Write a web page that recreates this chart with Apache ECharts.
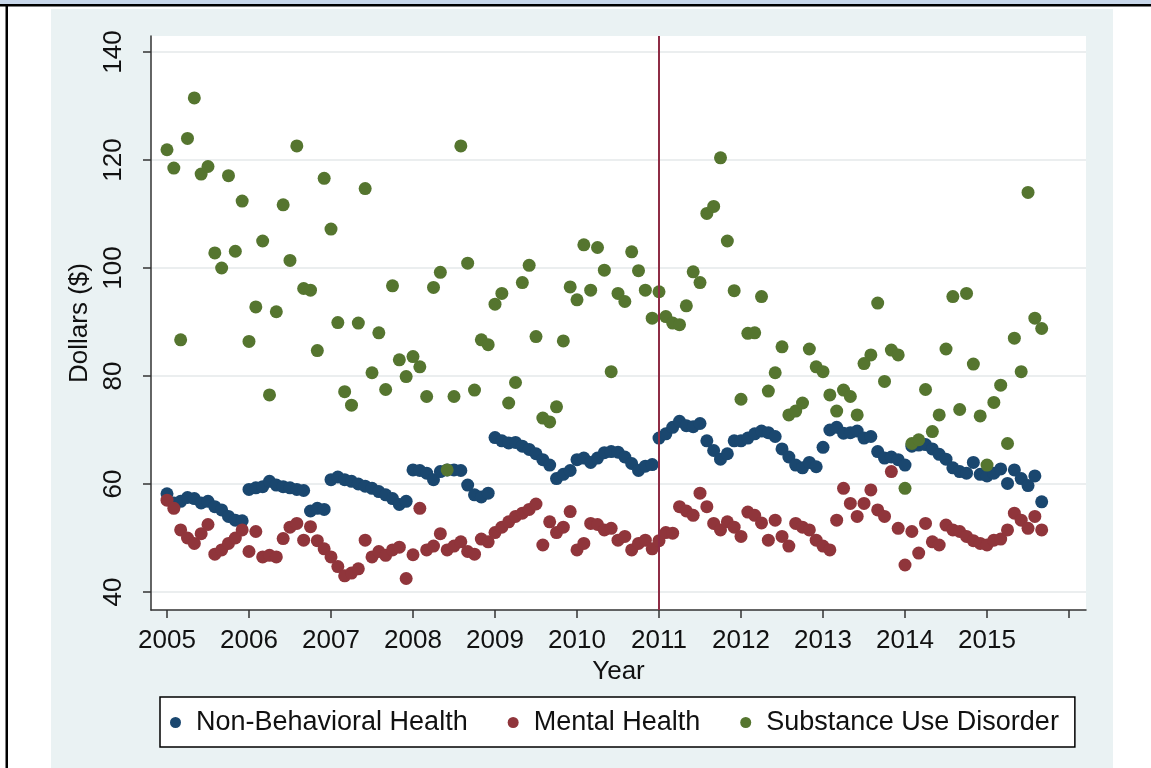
<!DOCTYPE html>
<html>
<head>
<meta charset="utf-8">
<title>Monthly spending per person by type of care</title>
<script src="https://cdn.jsdelivr.net/npm/echarts@6.0.0/dist/echarts.min.js"></script>
<style>
  html, body { margin: 0; padding: 0; background: #fff; }
  #chart { width: 1151px; height: 768px; }
</style>
</head>
<body>
<div id="chart"></div>
<script>
// monthly points, Jan 2005 .. Sep 2015
var startYear = 2005;
var yearTicks = [2005, 2006, 2007, 2008, 2009, 2010, 2011, 2012, 2013, 2014, 2015, 2016];
var yearLabels = [2005, 2006, 2007, 2008, 2009, 2010, 2011, 2012, 2013, 2014, 2015];
var dollarTicks = [40, 60, 80, 100, 120, 140];
var policyYear = 2011;
var seriesNames = ['Non-Behavioral Health', 'Mental Health', 'Substance Use Disorder'];

var nonBehavioral = [
  58.2, 56.5, 56.8, 57.5, 57.3, 56.5, 56.8, 55.8, 55.2, 54.0, 53.3, 53.2,
  59.0, 59.3, 59.5, 60.5, 59.8, 59.5, 59.3, 59.0, 58.8, 55.0, 55.5, 55.3,
  60.8, 61.3, 60.8, 60.5, 60.0, 59.6, 59.2, 58.6, 58.0, 57.3, 56.2, 56.8,
  62.6, 62.5, 62.0, 60.8, 62.3, 62.6, 62.6, 62.5, 59.8, 58.0, 57.6, 58.3,
  68.6, 68.0, 67.6, 67.7, 67.0, 66.4, 65.6, 64.5, 63.5, 61.0, 61.8, 62.5,
  64.5, 64.8, 64.0, 64.8, 65.8, 66.0, 65.9, 65.0, 63.8, 62.5, 63.3, 63.6,
  68.5, 69.3, 70.5, 71.6, 70.8, 70.6, 71.2, 68.0, 66.2, 64.6, 65.6, 68.0,
  68.0, 68.5, 69.3, 69.8, 69.5, 68.8, 66.5, 65.0, 63.5, 63.0, 64.0, 63.2,
  66.8, 70.0, 70.5, 69.4, 69.5, 69.8, 68.5, 68.8, 66.0, 64.8, 65.0, 64.5,
  63.5, 67.0, 67.2, 67.3, 66.5, 65.5, 64.6, 63.0, 62.3, 62.0, 64.0, 61.8,
  61.5, 62.0, 62.8, 60.1, 62.6, 61.0, 59.7, 61.5, 56.7
];

var mentalHealth = [
  57.0, 55.5, 51.5, 50.0, 49.0, 50.8, 52.5, 47.0, 47.8, 49.0, 50.0, 51.5,
  47.5, 51.2, 46.5, 46.8, 46.5, 49.9, 52.0, 52.7, 49.6, 52.1, 49.5, 48.0,
  46.5, 44.7, 43.0, 43.5, 44.3, 49.6, 46.5, 47.5, 46.8, 47.8, 48.3, 42.5,
  46.9, 55.5, 47.8, 48.5, 50.8, 47.8, 48.5, 49.3, 47.5, 47.0, 49.8, 49.3,
  51.0, 52.0, 53.0, 54.0, 54.6, 55.3, 56.3, 48.7, 53.0, 51.0, 52.0, 54.9,
  47.8, 49.0, 52.7, 52.5, 51.5, 51.8, 49.6, 50.3, 47.8, 49.0, 49.6, 48.0,
  49.5, 51.0, 50.9, 55.8, 55.0, 54.2, 58.3, 55.8, 52.7, 51.5, 53.0, 52.0,
  50.3, 54.8, 54.2, 52.8, 49.6, 53.3, 50.3, 48.5, 52.7, 52.0, 51.5, 49.6,
  48.5, 47.8, 53.3, 59.2, 56.4, 54.0, 56.4, 58.9, 55.2, 54.0, 62.3, 51.8,
  45.0, 51.2, 47.2, 52.7, 49.3, 48.7, 52.4, 51.5, 51.2, 50.3, 49.5, 49.0,
  48.7, 49.6, 49.8, 51.5, 54.6, 53.3, 51.8, 54.0, 51.5
];

var substanceUse = [
  121.9, 118.5, 86.7, 124.0, 131.5, 117.4, 118.8, 102.8, 100.0, 117.1, 103.1, 112.4,
  86.4, 92.8, 105.0, 76.5, 91.9, 111.7, 101.4, 122.6, 96.2, 95.9, 84.7, 116.6,
  107.2, 89.9, 77.1, 74.6, 89.8, 114.7, 80.6, 88.0, 77.5, 96.7, 83.0, 79.9,
  83.6, 81.7, 76.2, 96.4, 99.2, 62.6, 76.2, 122.6, 100.9, 77.4, 86.7, 85.8,
  93.3, 95.3, 75.0, 78.8, 97.3, 100.5, 87.3, 72.2, 71.5, 74.3, 86.5, 96.5,
  94.1, 104.3, 95.9, 103.8, 99.6, 80.8, 95.3, 93.8, 103.0, 99.5, 95.9, 90.7,
  95.6, 91.0, 89.8, 89.5, 93.0, 99.3, 97.3, 110.1, 111.4, 120.4, 105.0, 95.8,
  75.7, 87.9, 88.0, 94.7, 77.2, 80.6, 85.4, 72.8, 73.5, 75.0, 85.0, 81.7,
  80.8, 76.5, 73.5, 77.4, 76.2, 72.8, 82.3, 83.9, 93.5, 79.0, 84.8, 83.9,
  59.2, 67.5, 68.2, 77.5, 69.7, 72.8, 85.0, 94.7, 73.8, 95.3, 82.2, 72.6,
  63.5, 75.1, 78.3, 67.5, 87.0, 80.8, 114.0, 90.7, 88.8
];

// month index -> decimal year
function toPoints(values) {
  return values.map(function (v, i) {
    return [startYear + i / 12, v];
  });
}

var font = 'Liberation Sans, Arial, sans-serif';
var chartDom = document.getElementById('chart');
var myChart = echarts.init(chartDom);

var option = {
  animation: false,
  backgroundColor: '#fff',
  textStyle: { fontFamily: font },
  // page frame + stata-like outer panel
  graphic: [
    { type: 'rect', z: -10, shape: { x: 0, y: 0, width: 1151, height: 4 }, style: { fill: '#c8d7ea' } },
    { type: 'rect', z: -10, shape: { x: 0, y: 4, width: 1151, height: 2.5 }, style: { fill: '#000' } },
    { type: 'rect', z: -10, shape: { x: 5.5, y: 4, width: 2.5, height: 764 }, style: { fill: '#000' } },
    { type: 'rect', z: -10, shape: { x: 51, y: 9, width: 1062, height: 759 }, style: { fill: '#eaf2f3' } }
  ],
  grid: {
    left: 151, top: 36, right: 65, bottom: 158,
    show: true, backgroundColor: '#fff', borderWidth: 0
  },
  xAxis: {
    type: 'value',
    min: 2004.805,
    max: 2016.207,
    name: 'Year',
    nameLocation: 'middle',
    nameGap: 42,
    nameTextStyle: { fontSize: 26, color: '#111', fontFamily: font },
    axisLine: { onZero: false, lineStyle: { color: '#333', width: 1.5 } },
    axisTick: { show: true, length: 8, customValues: yearTicks, lineStyle: { color: '#333', width: 1.5 } },
    axisLabel: {
      customValues: yearLabels,
      fontSize: 26, margin: 18, color: '#111', fontFamily: font,
      formatter: function (v) { return String(v); }
    },
    splitLine: { show: false }
  },
  yAxis: {
    type: 'value',
    min: 36.667,
    max: 142.963,
    name: 'Dollars ($)',
    nameLocation: 'middle',
    nameGap: 52,
    nameTextStyle: { fontSize: 26, color: '#111', fontFamily: font },
    axisLine: { show: true, onZero: false, lineStyle: { color: '#333', width: 1.5 } },
    axisTick: { show: true, length: 8, customValues: dollarTicks, lineStyle: { color: '#333', width: 1.5 } },
    axisLabel: {
      customValues: dollarTicks,
      rotate: 90,
      fontSize: 26, margin: 24, color: '#111', fontFamily: font,
      formatter: function (v) { return String(v); }
    },
    splitLine: { show: true, lineStyle: { color: '#e4e9ea', width: 1.5 } }
  },
  legend: {
    left: 160, top: 697,
    icon: 'circle',
    itemWidth: 11, itemHeight: 11, itemGap: 40,
    padding: [12, 16, 11, 10],
    borderColor: '#000', borderWidth: 1.5, backgroundColor: '#fff',
    textStyle: { fontSize: 27, color: '#111', fontFamily: font, padding: [0, 0, 0, 10] },
    data: seriesNames
  },
  series: [
    {
      name: seriesNames[0], type: 'scatter', symbol: 'circle', symbolSize: 13,
      itemStyle: { color: '#1a476f', opacity: 1 },
      data: toPoints(nonBehavioral)
    },
    {
      name: seriesNames[1], type: 'scatter', symbol: 'circle', symbolSize: 13,
      itemStyle: { color: '#90353b', opacity: 1 },
      data: toPoints(mentalHealth)
    },
    {
      name: seriesNames[2], type: 'scatter', symbol: 'circle', symbolSize: 13,
      itemStyle: { color: '#55752f', opacity: 1 },
      data: toPoints(substanceUse),
      markLine: {
        silent: true,
        symbol: 'none',
        label: { show: false },
        lineStyle: { color: '#8e2c45', width: 2, type: 'solid' },
        data: [{ xAxis: policyYear }]
      }
    }
  ]
};

option && myChart.setOption(option);
</script>
</body>
</html>
